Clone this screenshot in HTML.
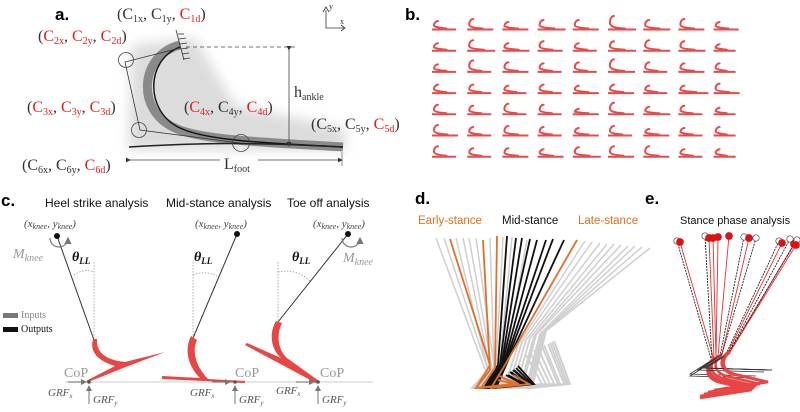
<!DOCTYPE html>
<html><head><meta charset="utf-8"><style>
html,body{margin:0;padding:0;background:#fff}
svg{display:block}
text{font-family:"Liberation Sans",sans-serif}
.ser text, text.ser{font-family:"Liberation Serif",serif}
</style></head><body>
<svg id="fig" width="800" height="412" viewBox="0 0 800 412" xmlns="http://www.w3.org/2000/svg">
<defs>
<filter id="blur" x="-20%" y="-20%" width="140%" height="140%"><feGaussianBlur stdDeviation="6"/></filter>
<marker id="ah" markerWidth="6" markerHeight="6" refX="5" refY="3" orient="auto"><path d="M0,0 L6,3 L0,6 Z" fill="#333"/></marker>
<marker id="ahg" markerWidth="6" markerHeight="6" refX="5" refY="3" orient="auto"><path d="M0,0 L6,3 L0,6 Z" fill="#777"/></marker>
</defs>

<!-- Panel a -->
<g>
<text x="55" y="20" font-size="17" font-weight="bold">a.</text>
<path d="M132,45 L195,38 L235,105 L345,128 L345,150 L128,150 Z" fill="#dcdcdc" filter="url(#blur)"/>
<path d="M180,45 C140,55 135,110 175,128 C200,140 260,142 343,147" fill="none" stroke="#8a8a8a" stroke-width="9"/>
<path d="M180,47 C145,60 145,112 180,128 C205,140 260,143 343,147" fill="none" stroke="#111" stroke-width="1.4"/>
<path d="M129,147 C180,144 240,141 343,147" fill="none" stroke="#222" stroke-width="1.5"/>
<path d="M180,48 L125,62 L140,130 L240,143" fill="none" stroke="#333" stroke-width="0.8"/>
<circle cx="126" cy="60" r="7.5" fill="none" stroke="#444" stroke-width="0.8"/>
<circle cx="139" cy="130" r="7.5" fill="none" stroke="#444" stroke-width="0.8"/>
<circle cx="241" cy="143" r="8.5" fill="none" stroke="#444" stroke-width="0.8"/>
<g stroke="#333" stroke-width="0.8"><line x1="176" y1="30" x2="184" y2="60"/><line x1="178" y1="34" x2="184" y2="34"/><line x1="179" y1="39" x2="186" y2="38"/><line x1="180" y1="44" x2="187" y2="43"/><line x1="181" y1="49" x2="188" y2="48"/><line x1="182" y1="54" x2="189" y2="53"/><line x1="183" y1="59" x2="190" y2="58"/></g>
<line x1="186" y1="47" x2="298" y2="47" stroke="#444" stroke-width="0.8" stroke-dasharray="4,3"/>
<line x1="289" y1="50" x2="289" y2="146" stroke="#444" stroke-width="0.8" marker-end="url(#ah)" marker-start="url(#ah)"/>
<line x1="130" y1="160" x2="220" y2="160" stroke="#444" stroke-width="0.8" marker-start="url(#ah)"/>
<line x1="258" y1="160" x2="342" y2="160" stroke="#444" stroke-width="0.8" marker-end="url(#ah)"/>
<line x1="342" y1="152" x2="342" y2="166" stroke="#444" stroke-width="0.6"/>
<g class="ser" font-size="16" fill="#333">
<text x="294" y="97">h<tspan font-size="10" dy="3">ankle</tspan></text>
<text x="224" y="169">L<tspan font-size="10" dy="3">foot</tspan></text>
<text x="117" y="19">(C<tspan font-size="10" dy="3">1x</tspan><tspan dy="-3">, C</tspan><tspan font-size="10" dy="3">1y</tspan><tspan dy="-3">, </tspan><tspan fill="#e02020">C</tspan><tspan font-size="10" dy="3" fill="#e02020">1d</tspan><tspan dy="-3">)</tspan></text>
<text x="38" y="41">(<tspan fill="#e02020">C</tspan><tspan font-size="10" dy="3" fill="#e02020">2x</tspan><tspan dy="-3">, </tspan><tspan fill="#e02020">C</tspan><tspan font-size="10" dy="3" fill="#e02020">2y</tspan><tspan dy="-3">, </tspan><tspan fill="#e02020">C</tspan><tspan font-size="10" dy="3" fill="#e02020">2d</tspan><tspan dy="-3">)</tspan></text>
<text x="27" y="112">(<tspan fill="#e02020">C</tspan><tspan font-size="10" dy="3" fill="#e02020">3x</tspan><tspan dy="-3">, </tspan><tspan fill="#e02020">C</tspan><tspan font-size="10" dy="3" fill="#e02020">3y</tspan><tspan dy="-3">, </tspan><tspan fill="#e02020">C</tspan><tspan font-size="10" dy="3" fill="#e02020">3d</tspan><tspan dy="-3">)</tspan></text>
<text x="184" y="112">(<tspan fill="#e02020">C</tspan><tspan font-size="10" dy="3" fill="#e02020">4x</tspan><tspan dy="-3">, C</tspan><tspan font-size="10" dy="3">4y</tspan><tspan dy="-3">, </tspan><tspan fill="#e02020">C</tspan><tspan font-size="10" dy="3" fill="#e02020">4d</tspan><tspan dy="-3">)</tspan></text>
<text x="311" y="129">(C<tspan font-size="10" dy="3">5x</tspan><tspan dy="-3">, C</tspan><tspan font-size="10" dy="3">5y</tspan><tspan dy="-3">, </tspan><tspan fill="#e02020">C</tspan><tspan font-size="10" dy="3" fill="#e02020">5d</tspan><tspan dy="-3">)</tspan></text>
<text x="22" y="170">(C<tspan font-size="10" dy="3">6x</tspan><tspan dy="-3">, C</tspan><tspan font-size="10" dy="3">6y</tspan><tspan dy="-3">, </tspan><tspan fill="#e02020">C</tspan><tspan font-size="10" dy="3" fill="#e02020">6d</tspan><tspan dy="-3">)</tspan></text>
</g>
<g stroke="#333" stroke-width="0.8" fill="none">
<polyline points="326,10 326,28 344,28"/><path d="M323,12 L326,7 L329,12"/><path d="M341,25 L345,28 L341,31"/>
</g>
<g class="ser"><text x="329" y="9" font-size="8" fill="#333">y</text><text x="340" y="24" font-size="8" fill="#333">x</text></g>
</g>

<!-- Panel b -->
<g id="panelB">
<text x="405" y="20" font-size="17" font-weight="bold">b.</text>
</g>

<!-- Panel c -->
<g>
<text x="1" y="206" font-size="17" font-weight="bold">c.</text>
<g font-size="12" fill="#111">
<text x="45" y="207">Heel strike analysis</text>
<text x="166" y="207">Mid-stance analysis</text>
<text x="287" y="207">Toe off analysis</text>
</g>
<line x1="65" y1="382" x2="373" y2="382" stroke="#ddd" stroke-width="1.5"/>
<g class="ser" font-style="italic" fill="#444" font-size="11">
<text x="24" y="227">(x<tspan font-size="8" dy="2">knee</tspan><tspan dy="-2">, y</tspan><tspan font-size="8" dy="2">knee</tspan><tspan dy="-2">)</tspan></text>
<text x="195" y="227">(x<tspan font-size="8" dy="2">knee</tspan><tspan dy="-2">, y</tspan><tspan font-size="8" dy="2">knee</tspan><tspan dy="-2">)</tspan></text>
<text x="313" y="227">(x<tspan font-size="8" dy="2">knee</tspan><tspan dy="-2">, y</tspan><tspan font-size="8" dy="2">knee</tspan><tspan dy="-2">)</tspan></text>
</g>
<g class="ser" font-style="italic" fill="#999" font-size="14">
<text x="13" y="258">M<tspan font-size="10" dy="3">knee</tspan></text>
<text x="343" y="262">M<tspan font-size="10" dy="3">knee</tspan></text>
</g>
<g class="ser" font-style="italic" font-weight="bold" fill="#111" font-size="14">
<text x="72" y="261">θ<tspan font-size="9" dy="3">LL</tspan></text>
<text x="194" y="261">θ<tspan font-size="9" dy="3">LL</tspan></text>
<text x="292" y="261">θ<tspan font-size="9" dy="3">LL</tspan></text>
</g>
<g stroke="#333" stroke-width="1">
<line x1="57" y1="236" x2="94" y2="340"/><line x1="237" y1="234" x2="193" y2="338"/><line x1="348" y1="234" x2="278" y2="322"/>
</g>
<g stroke="#999" stroke-width="0.8" stroke-dasharray="1.5,1.5" fill="none">
<line x1="94" y1="262" x2="94" y2="340"/><line x1="193" y1="262" x2="193" y2="338"/><line x1="278" y1="262" x2="278" y2="322"/>
<path d="M74,275 Q84,268 94,272"/><path d="M193,275 Q205,270 217,276"/><path d="M278,272 Q296,268 310,281"/>
</g>
<g fill="#111"><circle cx="57" cy="236" r="3"/><circle cx="237" cy="234" r="3"/><circle cx="348" cy="234" r="3"/></g>
<path d="M50,238 A9,9 0 1 0 68,238" fill="none" stroke="#777" stroke-width="1.2" marker-end="url(#ahg)"/>
<path d="M342,238 A9,9 0 1 0 360,238" fill="none" stroke="#777" stroke-width="1.2" marker-end="url(#ahg)"/>
<g fill="#e84545">
<path d="M93,339 L97,339 C96,352 105,360 125,362 L165,352 L131,365 L88,382 L86,381 L115,366 C95,360 90,350 93,339 Z"/>
<path d="M191,336 L197,340 C192,350 195,366 208,379 L245,381 L245,383 L162,379 L162,376 L200,378 C188,366 184,350 191,336 Z"/>
<path d="M276,321 L282,323 C276,335 278,350 287,358 L319,381 L316,383 L245,345 L247,343 L281,358 C272,350 268,335 276,321 Z"/>
</g>
<g fill="#999" class="ser" font-size="14"><text x="64" y="377">CoP</text><text x="235" y="377">CoP</text><text x="320" y="377">CoP</text></g>
<g stroke="#777" stroke-width="1" fill="none">
<line x1="68" y1="382" x2="86" y2="382" marker-end="url(#ahg)"/><line x1="89" y1="404" x2="89" y2="386" marker-end="url(#ahg)"/>
<line x1="212" y1="382" x2="230" y2="382" marker-end="url(#ahg)"/><line x1="235" y1="404" x2="235" y2="386" marker-end="url(#ahg)"/>
<line x1="296" y1="382" x2="314" y2="382" marker-end="url(#ahg)"/><line x1="318" y1="404" x2="318" y2="386" marker-end="url(#ahg)"/>
</g>
<g fill="#555"><circle cx="89" cy="382" r="1.8"/><circle cx="235" cy="382" r="1.8"/><circle cx="318" cy="382" r="1.8"/></g>
<g class="ser" font-style="italic" fill="#555" font-size="11">
<text x="48" y="396">GRF<tspan font-size="7" dy="2">x</tspan></text><text x="93" y="403">GRF<tspan font-size="7" dy="2">y</tspan></text>
<text x="190" y="396">GRF<tspan font-size="7" dy="2">x</tspan></text><text x="239" y="403">GRF<tspan font-size="7" dy="2">y</tspan></text>
<text x="276" y="394">GRF<tspan font-size="7" dy="2">x</tspan></text><text x="322" y="403">GRF<tspan font-size="7" dy="2">y</tspan></text>
</g>
<g class="ser">
<rect x="3" y="313" width="15" height="5" fill="#777"/><text x="21" y="318" font-size="10" fill="#888">Inputs</text>
<rect x="3" y="327" width="15" height="5" fill="#111"/><text x="21" y="332" font-size="10" fill="#111">Outputs</text>
</g>
</g>

<!-- Panel d -->
<g id="panelD">
<text x="415" y="204" font-size="17" font-weight="bold">d.</text>
<text x="418" y="224" font-size="11.5" fill="#e07020">Early-stance</text>
<text x="502" y="224" font-size="11.5" fill="#111">Mid-stance</text>
<text x="578" y="224" font-size="11.5" fill="#e07020">Late-stance</text>
</g>

<!-- Panel e -->
<g id="panelE">
<text x="645" y="204" font-size="17" font-weight="bold">e.</text>
<text x="680" y="224" font-size="11" fill="#111">Stance phase analysis</text>
</g>
</svg>
<script>
// Panel b grid: per-shape heel height and length (read approx. from picture)
const bRows = 7, bCols = 9;
const bHeel = [9,11,8,10,10,14,10,11,8, 8,11,8,10,8,10,11,10,7, 8,12,10,9,10,13,10,9,9, 9,9,8,9,8,9,8,8,10, 10,9,11,10,6,12,8,9,7, 11,9,10,9,8,10,7,8,9, 11,9,9,8,10,11,11,8,8];
const bLen = [24,26,26,28,26,28,27,26,25, 24,28,27,25,24,28,27,27,22, 24,24,26,24,24,27,24,26,22, 24,24,24,24,26,26,24,30,26, 24,24,24,24,26,26,27,24,22, 26,24,26,24,26,24,26,24,22, 24,24,26,26,28,26,26,24,22];
const svgNS = "http://www.w3.org/2000/svg";
const gB = document.getElementById('panelB');
function bx(c){ return 432 + c * 35.2; }
function by(r){ return 30 + r * 21.2; }
for (let r = 0; r < bRows; r++) for (let c = 0; c < bCols; c++) {
  const i = r * bCols + c, x = bx(c), y = by(r), L = bLen[i], h = bHeel[i];
  const base = document.createElementNS(svgNS, 'path');
  base.setAttribute('d', `M${x},${y-0.5} L${x+L},${y-0.5}`);
  base.setAttribute('stroke', '#e84a4a');
  base.setAttribute('stroke-width', '2');
  
  
  gB.appendChild(base);
  const p = document.createElementNS(svgNS, 'path');
  p.setAttribute('d', `M${x+L*0.6},${y-1.5} C${x+8},${y-2} ${x+2},${y-3} ${x+2},${y-h*0.5} C${x+2},${y-h+2} ${x+4},${y-h} ${x+6},${y-h}`);
  p.setAttribute('fill', 'none');
  p.setAttribute('stroke', '#e84a4a');
  p.setAttribute('stroke-width', '2');
  p.setAttribute('stroke-linecap', 'round');
  
  
  gB.appendChild(p);
}

// Panel d: leg lines (knee -> ankle) with phase
const dKneeX = [436,444,450,456,463,469,476,483,490,497,503,507,512,516,522,527,530,537,546,553,564,577,585,592,600,607,614,621,628,635,642,650];
const dKneeY = [238,238,239,238,238,238,238,240,238,236,237,236,237,238,238,240,239,240,240,239,240,240,241,242,243,244,244,245,246,246,247,248];
const dAnkleX = [486,488,490,488,490,492,494,490,494,495,496,498,500,500,502,505,503,505,506,508,510,505,518,522,526,530,534,536,540,542,544,546];
const dAnkleY = [372,370,365,370,368,368,366,370,368,368,366,365,362,365,362,360,362,360,360,358,356,365,345,342,340,338,336,335,334,333,332,331];
const dPhase = ['g','g','o','g','g','g','g','o','g','o','g','k','g','k','k','g','k','k','k','k','k','o','g','g','g','g','g','g','g','g','g','g'];
const colD = {g:'#cfcfcf', o:'#e0702a', k:'#111'};
const gD = document.getElementById('panelD');
['g','k','o'].forEach(ph => {
  dKneeX.forEach((kx, i) => {
    if (dPhase[i] !== ph) return;
    const l = document.createElementNS(svgNS, 'line');
    l.setAttribute('x1', kx); l.setAttribute('y1', dKneeY[i]);
    l.setAttribute('x2', dAnkleX[i]); l.setAttribute('y2', dAnkleY[i]);
    l.setAttribute('stroke', colD[ph]); l.setAttribute('stroke-width', ph === 'g' ? 1.5 : 1.8);
    
    
    gD.appendChild(l);
    const f = document.createElementNS(svgNS, 'path');
    const ax = dAnkleX[i], ay = dAnkleY[i];
    f.setAttribute('d', `M${ax},${ay} L${ax-14},${388} L${ax+24},${384} L${ax+8},${ay+10}`);
    f.setAttribute('fill', 'none'); f.setAttribute('stroke', colD[ph]); f.setAttribute('stroke-width', 1.8);
    
    
    gD.appendChild(f);
  });
});

// Panel e: predicted (red) vs measured (open) knee positions
const eKneeX = [677,680,705,709,713,718,729,744,749,756,779,782,790,794,797,796];
const eKneeY = [241,242,236,238,238,237,236,237,238,238,241,243,239,244,240,245];
const eType = ['m','p','m','p','p','p','p','m','p','m','m','p','m','p','m','p'];
const eAnkleX = [712,714,712,714,716,716,718,720,722,722,726,728,728,730,728,730];
const eAnkleY = [362,360,360,358,358,358,356,356,354,354,354,352,354,352,354,352];
const gE = document.getElementById('panelE');
eKneeX.forEach((kx, i) => {
  const l = document.createElementNS(svgNS, 'line');
  l.setAttribute('x1', kx); l.setAttribute('y1', eKneeY[i]);
  l.setAttribute('x2', eAnkleX[i]); l.setAttribute('y2', eAnkleY[i]);
  l.setAttribute('stroke', eType[i] === 'p' ? '#e83030' : '#222');
  l.setAttribute('stroke-width', 0.9);
  if (eType[i] === 'm') l.setAttribute('stroke-dasharray', '2,1');
  
  
  gE.appendChild(l);
});
eKneeX.forEach((kx, i) => {
  const ax = eAnkleX[i], ay = eAnkleY[i];
  const f = document.createElementNS(svgNS, 'path');
  if (eType[i] === 'p') {
    f.setAttribute('d', `M${ax},${ay} C${ax-10},${ay+8} ${ax-8},${ay+18} ${ax+4},${ay+22} L${ax+38},${ay+30} L${ax-14},${ay+38}`);
    f.setAttribute('stroke', '#e84545'); f.setAttribute('stroke-width', 2.5);
  } else {
    f.setAttribute('d', `M${ax},${ay} L${ax-22},${ay+14} L${ax+44},${ay+16}`);
    f.setAttribute('stroke', '#333'); f.setAttribute('stroke-width', 0.8);
  }
  f.setAttribute('fill', 'none');
  
  
  gE.appendChild(f);
  const c = document.createElementNS(svgNS, 'circle');
  c.setAttribute('cx', kx); c.setAttribute('cy', eKneeY[i]);
  c.setAttribute('r', eType[i] === 'p' ? 3.5 : 3.2);
  c.setAttribute('fill', eType[i] === 'p' ? '#e01010' : '#fff');
  c.setAttribute('stroke', eType[i] === 'p' ? '#e01010' : '#444');
  c.setAttribute('stroke-width', 0.7);
  
  
  gE.appendChild(c);
});
</script>
</body></html>
